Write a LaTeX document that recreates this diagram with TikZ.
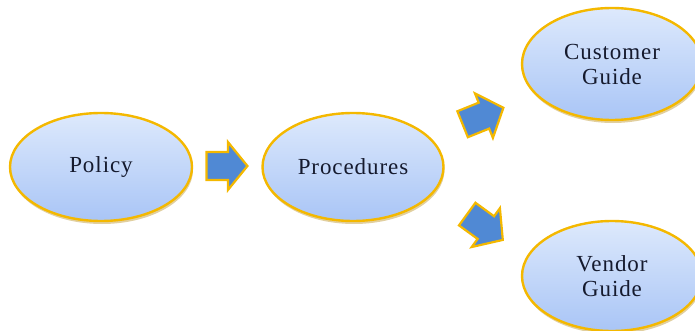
\documentclass[tikz,border=0pt]{standalone}
\usepackage{fontspec}
\setmainfont{Liberation Serif}[LetterSpace=4]
\usetikzlibrary{shapes.geometric}
\definecolor{rimgold}{HTML}{F4B800}
\definecolor{shadegold}{HTML}{C9A850}
\definecolor{topblue}{HTML}{DDE9FC}
\definecolor{botblue}{HTML}{A9C5F6}
\definecolor{arrowblue}{HTML}{5089D4}
\definecolor{inktext}{HTML}{151A2E}
\tikzset{
  x=1pt, y=1pt,
  bubble/.style={ellipse, draw=rimgold, line width=2.4pt, top color=topblue,
    bottom color=botblue, inner sep=0pt, align=center, text=inktext,
    font=\fontsize{23}{25}\selectfont},
  bubbleshadow/.style={ellipse, fill=shadegold, opacity=0.55, inner sep=0pt},
  pics/blockarrow/.style={code={
    \path[fill=arrowblue, draw=rimgold, line width=2.2pt, line join=miter]
      (-22,-14) -- (1,-14) -- (1,-24) -- (22,0) -- (1,24) -- (1,14)
      -- (-22,14) -- cycle;
  }}
}
\begin{document}
\begin{tikzpicture}
\useasboundingbox (0,0) rectangle (695,330);

% soft shadows under the ellipses
\node[bubbleshadow, minimum width=182pt, minimum height=108pt] at (102,160) {};
\node[bubbleshadow, minimum width=181pt, minimum height=108pt] at (354,160) {};
\node[bubbleshadow, minimum width=180pt, minimum height=112pt] at (613,263) {};
\node[bubbleshadow, minimum width=180pt, minimum height=110pt] at (613,51) {};

% ellipses
\node[bubble, minimum width=182pt, minimum height=108pt] (policy) at (101,163) {Policy};
\node[bubble, minimum width=181pt, minimum height=108pt] (proc) at (353,163) {Procedures};
\node[bubble, minimum width=180pt, minimum height=112pt] (cust) at (612,266) {Customer\\Guide};
\node[bubble, minimum width=180pt, minimum height=110pt] (vend) at (612,54) {Vendor\\Guide};

% block arrows between the stages
\pic[shift={(227,164)}, xscale=0.93] {blockarrow};
\pic[shift={(483,214)}, rotate=22] {blockarrow};
\pic[shift={(485,103)}, rotate=-36] {blockarrow};
\end{tikzpicture}
\end{document}
